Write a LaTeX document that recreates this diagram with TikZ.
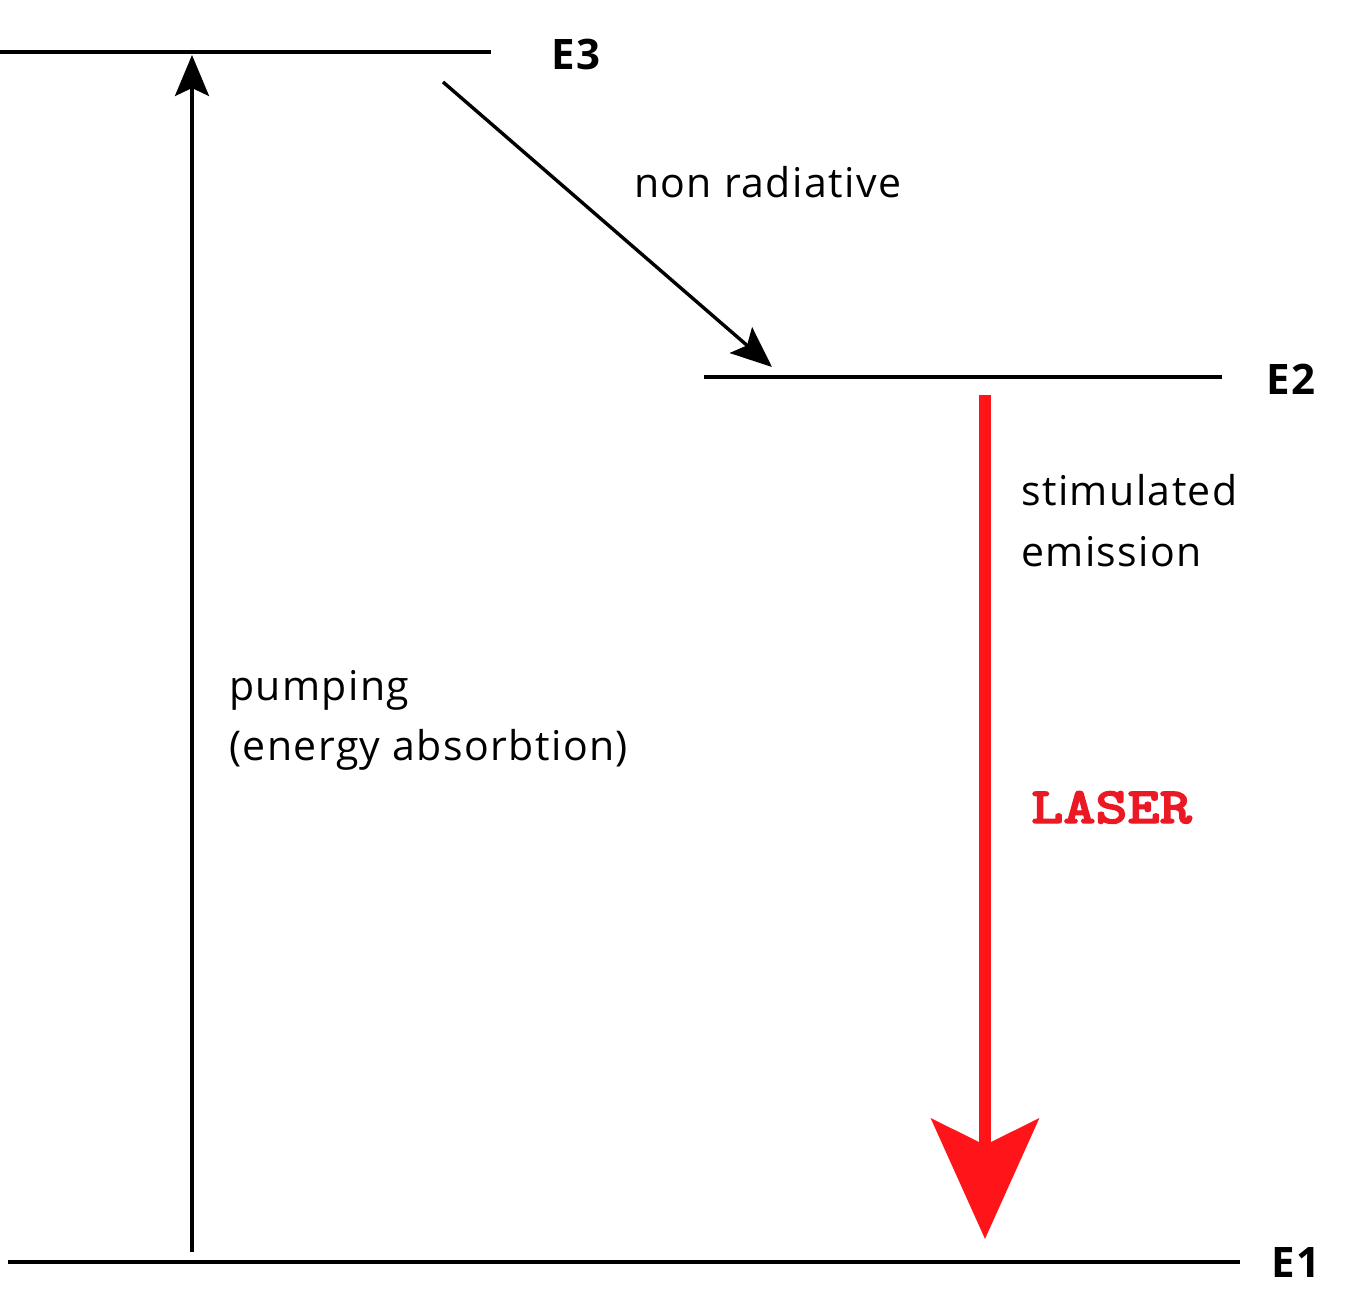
\documentclass[tikz,border=0pt]{standalone}
\usepackage{fontspec}
\setmainfont{Open Sans}[LetterSpace=3.5]
\newfontfamily\elabelfont{Open Sans}[LetterSpace=4]
\newfontfamily\laserfont{lmmonolt10-bold}[Extension=.otf, FakeBold=2.5]
\usetikzlibrary{arrows.meta}
\definecolor{laserred}{RGB}{255,20,25}
\definecolor{labelred}{RGB}{235,25,35}
\tikzset{
  level/.style={line width=4pt, black},
  blackarrow/.style={line width=3.4pt, black, -{Stealth[length=41pt, width=34pt, inset=8pt]}},
  redarrow/.style={line width=12pt, laserred, -{Stealth[length=120pt, width=107pt, inset=26pt]}},
  lbl/.style={inner sep=0pt, anchor=base west, font=\fontsize{41}{49}\selectfont},
  elbl/.style={inner sep=0pt, anchor=base west, font=\fontsize{42}{50}\selectfont\elabelfont\bfseries},
  laserlbl/.style={inner sep=0pt, anchor=base west, text=labelred, font=\fontsize{51}{60}\selectfont\laserfont},
}
\begin{document}
\begin{tikzpicture}[x=1pt,y=-1pt]
\useasboundingbox (0,0) rectangle (1363,1307);
% levels
\coordinate (E3a) at (0,52);
\coordinate (E3b) at (491,52);
\coordinate (E2a) at (704,377);
\coordinate (E2b) at (1222,377);
\coordinate (E1a) at (8,1262);
\coordinate (E1b) at (1240,1262);
\draw[level] (E3a) -- (E3b);
\draw[level] (E2a) -- (E2b);
\draw[level] (E1a) -- (E1b);
\node[elbl] (lE3) at (551,69) {E3};
\node[elbl] (lE2) at (1266,394) {E2};
\node[elbl] (lE1) at (1271,1277) {E1};
% pumping
\coordinate (pumpS) at (192,1252);
\coordinate (pumpT) at (192,55);
\draw[blackarrow] (pumpS) -- (pumpT);
\node[lbl] (pump1) at (229,700) {pumping};
\node[lbl] (pump2) at (229,760) {(energy absorbtion)};
% non radiative
\coordinate (nrS) at (443,82);
\coordinate (nrT) at (772,367);
\draw[blackarrow] (nrS) -- (nrT);
\node[lbl] (nr) at (634,197) {non radiative};
% stimulated emission
\coordinate (seS) at (985,395);
\coordinate (seT) at (985,1239);
\draw[redarrow] (seS) -- (seT);
\node[lbl] (se1) at (1021,505) {stimulated};
\node[lbl] (se2) at (1021,566) {emission};
\node[laserlbl] (laser) at (1031,823) {\scalebox{1.2}[1]{LASER}};
\end{tikzpicture}
\end{document}
